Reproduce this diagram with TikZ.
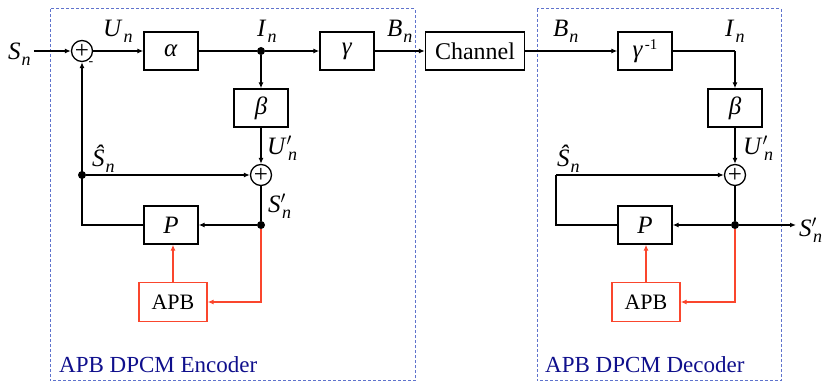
\documentclass[tikz,border=0pt]{standalone}
\usepackage{fontspec}
\setmainfont{Liberation Serif}
\usetikzlibrary{arrows.meta}

\definecolor{frameblue}{RGB}{95,115,205}
\definecolor{textnavy}{RGB}{15,15,140}
\definecolor{apbred}{RGB}{250,70,45}

% signal names with a lowered subscript
\newcommand{\subn}[1]{\raisebox{-6pt}{\fontsize{18}{18}\selectfont\textit{#1}}}
\newcommand{\sig}[2]{\textit{#1}\kern1pt\subn{#2}}
\newcommand{\sigp}[2]{\textit{#1}\rlap{$'$}\kern1.5pt\subn{#2}}
\newcommand{\sighat}[2]{\textit{\^{#1}}\kern1pt\subn{#2}}

\begin{document}
\begin{tikzpicture}[x=1pt,y=-1pt,
    font=\fontsize{25}{28}\selectfont,
    block/.style={draw, line width=1.3pt, minimum width=54pt, minimum height=38pt, inner sep=0pt},
    apbbox/.style={draw=apbred, line width=1.3pt, minimum width=68pt, minimum height=39pt, inner sep=0pt,
        font=\fontsize{22}{24}\selectfont},
    summer/.style={draw, circle, line width=1.3pt, minimum size=21pt, inner sep=0pt,
        font=\fontsize{25}{25}\selectfont},
    dot/.style={circle, fill, inner sep=0pt, minimum size=8pt},
    lbl/.style={anchor=base west, inner sep=0pt},
    wire/.style={line width=1.3pt},
    arr/.style={line width=1.3pt, -{Latex[length=6pt,width=5pt]}},
    frame/.style={draw=frameblue, line width=1pt, dash pattern=on 3pt off 2pt}]
\useasboundingbox (0,0) rectangle (823,382);

% Dashed frames
\draw[frame] (50,9) rectangle (415,381);
\draw[frame] (537,9) rectangle (781,381);
\node[lbl, text=textnavy, font=\fontsize{23}{25}\selectfont] (enctitle) at (59,373) {APB DPCM Encoder};
\node[lbl, text=textnavy, font=\fontsize{23}{25}\selectfont] (dectitle) at (545,373) {APB DPCM Decoder};

% Encoder blocks
\node[summer] (sum1) at (82,51) {+};
\node[block] (alpha) at (171,51) {\textit{α}};
\node[dot] (in1) at (261,51) {};
\node[block] (gamma) at (347,51) {\textit{γ}};
\node[block] (beta1) at (261,108) {\textit{β}};
\node[summer] (sum2) at (261,175) {+};
\node[dot] (shat1) at (82,175) {};
\node[dot] (sdot1) at (261,225) {};
\node[block] (p1) at (171,225) {\textit{P}};
\node[apbbox] (apb1) at (173,302) {APB};

% Channel
\node[block, minimum width=99pt, font=\fontsize{24}{26}\selectfont] (chan) at (475,51) {Channel};

% Decoder blocks
\node[block] (ginv) at (645,51) {\textit{γ}\kern2pt\raisebox{8pt}{\fontsize{15}{15}\selectfont -1}};
\coordinate (in2) at (735,51);
\node[block] (beta2) at (735,108) {\textit{β}};
\node[summer] (sum3) at (735,175) {+};
\coordinate (shat2) at (556,175);
\node[dot] (sdot2) at (735,225) {};
\node[block] (p2) at (645,225) {\textit{P}};
\node[apbbox] (apb2) at (646,302) {APB};

% Signal labels
\node[lbl] (sn) at (8,60) {\sig{S}{n}};
\node[lbl] (un) at (103,37) {\sig{U}{n}};
\node[lbl] (in) at (257,37) {\sig{I}{n}};
\node[lbl] (bn) at (387,37) {\sig{B}{n}};
\node[lbl] (upn) at (267,155) {\sigp{U}{n}};
\node[lbl] (shn) at (92,167) {\sighat{S}{n}};
\node[lbl] (spn) at (268,213) {\sigp{S}{n}};
\node[inner sep=0pt, font=\fontsize{14}{14}\selectfont] (minus) at (91,64) {-};
\node[lbl] (bn2) at (553,37) {\sig{B}{n}};
\node[lbl] (in2l) at (725,37) {\sig{I}{n}};
\node[lbl] (upn2) at (743,155) {\sigp{U}{n}};
\node[lbl] (shn2) at (557,167) {\sighat{S}{n}};
\node[lbl] (sout) at (799,237) {\sigp{S}{n}};

% Encoder connections
\draw[arr] ([xshift=3pt]sn.east |- sum1) -- (sum1);
\draw[arr] (sum1) -- (alpha);
\draw[wire] (alpha) -- (in1);
\draw[arr] (in1) -- (gamma);
\draw[arr] (in1) -- (beta1);
\draw[arr] (beta1) -- (sum2);
\draw[arr] (shat1) -- (sum2);
\draw[wire] (sum2) -- (sdot1);
\draw[arr] (sdot1) -- (p1);
\draw[arr] (p1.west) -| (sum1.south);
\draw[arr, apbred] (sdot1) |- (apb1);
\draw[arr, apbred] (apb1.north) -- (apb1.north |- p1.south);

% Through the channel
\draw[arr] (gamma) -- (chan);
\draw[arr] (chan) -- (ginv);

% Decoder connections
\draw[wire] (ginv.east) -- (in2);
\draw[arr] (in2) -- (beta2);
\draw[arr] (beta2) -- (sum3);
\draw[wire] (p2.west) -| (shat2);
\draw[arr] (shat2) -- (sum3);
\draw[wire] (sum3) -- (sdot2);
\draw[arr] (sdot2) -- (p2);
\draw[arr] (sdot2) -- ([xshift=-3pt]sout.west |- sdot2);
\draw[arr, apbred] (sdot2) |- (apb2);
\draw[arr, apbred] (apb2.north) -- (apb2.north |- p2.south);

\end{tikzpicture}
\end{document}
